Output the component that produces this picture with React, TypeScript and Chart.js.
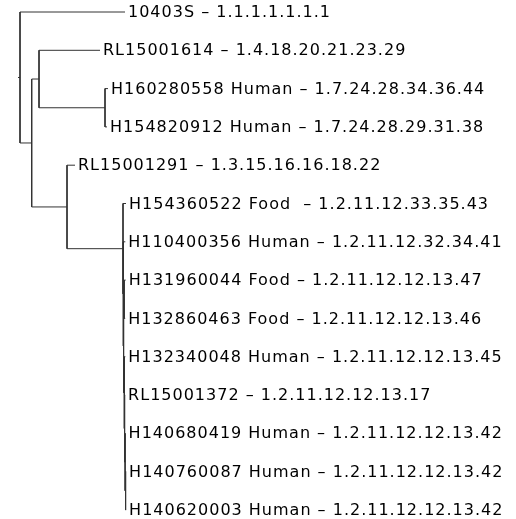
import React, { useEffect, useRef } from "react";
import { Chart, registerables } from "chart.js";

Chart.register(...registerables);

// Leaves (top to bottom)
const leafIds = [
  "10403S",
  "RL15001614",
  "H160280558",
  "H154820912",
  "RL15001291",
  "H154360522",
  "H110400356",
  "H131960044",
  "H132860463",
  "H132340048",
  "RL15001372",
  "H140680419",
  "H140760087",
  "H140620003",
];
const leafTypes = [
  "",
  "",
  "Human",
  "Human",
  "",
  "Food ",
  "Human",
  "Food",
  "Food",
  "Human",
  "",
  "Human",
  "Human",
  "Human",
];
const leafProfiles = [
  "1.1.1.1.1.1.1",
  "1.4.18.20.21.23.29",
  "1.7.24.28.34.36.44",
  "1.7.24.28.29.31.38",
  "1.3.15.16.16.18.22",
  "1.2.11.12.33.35.43",
  "1.2.11.12.32.34.41",
  "1.2.11.12.12.13.47",
  "1.2.11.12.12.13.46",
  "1.2.11.12.12.13.45",
  "1.2.11.12.12.13.17",
  "1.2.11.12.12.13.42",
  "1.2.11.12.12.13.42",
  "1.2.11.12.12.13.42",
];

// Tree topology with branch lengths (Lk = leaf k)
const newick =
  "(L0:105,((L1:61,(L2:3,L3:2):66):7.3,(L4:8,(L5:3,(L6:2,((L7:1.5,L8:1):0.6,(L9:1,(L10:0.5,(L11:0.5,(L12:0.5,L13:0.5):0.5):0.5):0.3):0.7):0.3):0.3):56):35.3):11.7):2;";

type TNode = { name?: string; len: number; children: TNode[]; x?: number; y?: number };

function parseNewick(s: string): TNode {
  let i = 0;
  function parseNode(): TNode {
    const node: TNode = { len: 0, children: [] };
    if (s[i] === "(") {
      i++;
      node.children.push(parseNode());
      while (s[i] === ",") {
        i++;
        node.children.push(parseNode());
      }
      i++; // ')'
    }
    let name = "";
    while (i < s.length && !":,();".includes(s[i])) name += s[i++];
    if (name) node.name = name;
    if (s[i] === ":") {
      i++;
      let num = "";
      while (i < s.length && !",();".includes(s[i])) num += s[i++];
      node.len = parseFloat(num);
    }
    return node;
  }
  return parseNode();
}

function layout(node: TNode, depth: number) {
  node.x = depth + node.len;
  if (node.children.length === 0) {
    node.y = parseInt((node.name || "L0").slice(1), 10);
  } else {
    node.children.forEach((c) => layout(c, node.x!));
    node.y = (node.children[0].y! + node.children[node.children.length - 1].y!) / 2;
  }
}

type Seg = { x1: number; y1: number; x2: number; y2: number };
function collect(node: TNode, parentX: number, segs: Seg[], tips: { idx: number; x: number }[]) {
  segs.push({ x1: parentX, y1: node.y!, x2: node.x!, y2: node.y! });
  if (node.children.length === 0) {
    tips.push({ idx: node.y!, x: node.x! });
    return;
  }
  const first = node.children[0];
  const last = node.children[node.children.length - 1];
  segs.push({ x1: node.x!, y1: first.y!, x2: node.x!, y2: last.y! });
  node.children.forEach((c) => collect(c, node.x!, segs, tips));
}

const LINE_COLOR = "#333333";
const TEXT_COLOR = "#000000";

export default function App() {
  const ref = useRef<HTMLCanvasElement | null>(null);

  useEffect(() => {
    if (!ref.current) return;
    const root = parseNewick(newick);
    layout(root, 0);
    const segs: Seg[] = [];
    const tips: { idx: number; x: number }[] = [];
    collect(root, 0, segs, tips);

    const datasets = segs.map((s) => ({
      data: [
        { x: s.x1, y: s.y1 },
        { x: s.x2, y: s.y2 },
      ],
      showLine: true,
      borderColor: LINE_COLOR,
      borderWidth: 1,
      pointRadius: 0,
      fill: false,
    }));

    const labelPlugin = {
      id: "leafLabels",
      afterDatasetsDraw(chart: any) {
        const { ctx } = chart;
        const xs = chart.scales.x;
        const ys = chart.scales.y;
        ctx.save();
        ctx.font = '16px "DejaVu Sans"';
        try {
          (ctx as any).letterSpacing = "1px";
        } catch (e) {}
        ctx.fillStyle = TEXT_COLOR;
        ctx.textBaseline = "middle";
        ctx.textAlign = "left";
        tips.forEach((t) => {
          const i = t.idx;
          const label =
            leafIds[i] + (leafTypes[i] ? " " + leafTypes[i] : "") + " \u2013 " + leafProfiles[i];
          ctx.fillText(label, xs.getPixelForValue(t.x) + 3, ys.getPixelForValue(i) + 1);
        });
        ctx.restore();
      },
    };

    const chart = new Chart(ref.current, {
      type: "scatter",
      data: { datasets: datasets as any },
      options: {
        animation: false,
        responsive: true,
        maintainAspectRatio: false,
        layout: { padding: 0 },
        events: [],
        plugins: { legend: { display: false }, tooltip: { enabled: false } },
        scales: {
          x: { type: "linear", display: false, min: -18, max: 498 },
          y: { type: "linear", display: false, reverse: true, min: -12 / 38.3, max: 507 / 38.3 },
        },
      },
      plugins: [labelPlugin],
    });
    return () => chart.destroy();
  }, []);

  return (
    <div style={{ position: "absolute", left: 0, top: 0, width: 516, height: 519, background: "#fff" }}>
      <canvas ref={ref} />
    </div>
  );
}
